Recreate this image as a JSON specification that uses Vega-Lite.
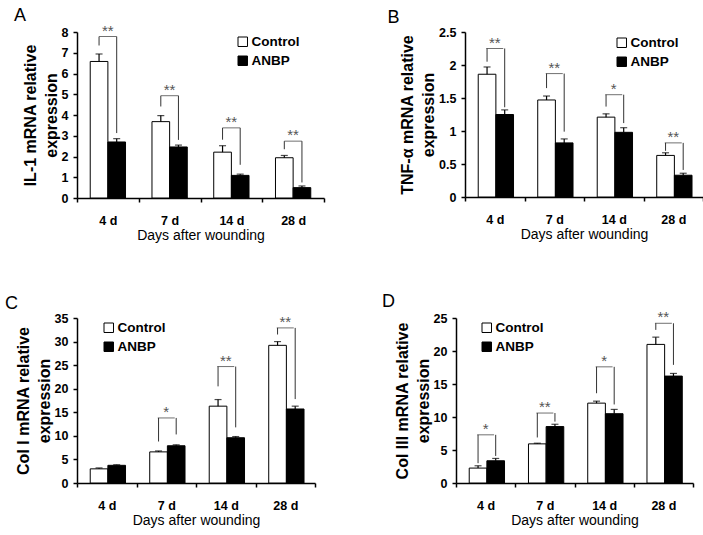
{
  "$schema": "https://vega.github.io/schema/vega-lite/v6.json",
  "background": "white",
  "padding": {"left": 5, "top": 6, "right": 0, "bottom": 0},
  "config": {
    "view": {"stroke": null},
    "font": "Liberation Sans",
    "axis": {"grid": false, "domainColor": "black", "domainWidth": 1.5, "tickColor": "black", "tickWidth": 1.5, "tickSize": 4, "labelColor": "black", "labelFont": "Liberation Sans", "labelFontSize": 12.5, "labelFontWeight": "bold", "labelOverlap": false, "labelSeparation": -40, "titleColor": "black", "titleFont": "Liberation Sans"},
    "axisY": {"format": "~g", "titleFontSize": 16, "titleFontWeight": "bold", "titleLineHeight": 21, "titlePadding": 2, "labelPadding": 5, "labelOverlap": false, "labelSeparation": -40},
    "axisX": {"titleFontSize": 14, "titleFontWeight": "normal", "titlePadding": 2, "labelAngle": 0, "labelPadding": 12, "tickBand": "extent"},
    "title": {"font": "Liberation Sans", "fontSize": 18, "fontWeight": "normal", "color": "black", "anchor": "start", "frame": "bounds", "offset": 2},
    "legend": {"title": null, "orient": "none", "symbolType": "square", "symbolSize": 90, "symbolStrokeColor": "black", "symbolStrokeWidth": 1, "labelFont": "Liberation Sans", "labelFontSize": 13.5, "labelFontWeight": "bold", "labelColor": "black", "labelOffset": 2, "rowPadding": 4}
  },
  "datasets": {
    "bars": [
      {"panel": "A", "day": "4 d", "group": "Control", "value": 6.58, "err": 6.94},
      {"panel": "A", "day": "4 d", "group": "ANBP", "value": 2.70, "err": 2.86},
      {"panel": "A", "day": "7 d", "group": "Control", "value": 3.68, "err": 3.97},
      {"panel": "A", "day": "7 d", "group": "ANBP", "value": 2.46, "err": 2.55},
      {"panel": "A", "day": "14 d", "group": "Control", "value": 2.21, "err": 2.52},
      {"panel": "A", "day": "14 d", "group": "ANBP", "value": 1.09, "err": 1.15},
      {"panel": "A", "day": "28 d", "group": "Control", "value": 1.94, "err": 2.05},
      {"panel": "A", "day": "28 d", "group": "ANBP", "value": 0.50, "err": 0.58},
      {"panel": "B", "day": "4 d", "group": "Control", "value": 1.86, "err": 1.97},
      {"panel": "B", "day": "4 d", "group": "ANBP", "value": 1.25, "err": 1.32},
      {"panel": "B", "day": "7 d", "group": "Control", "value": 1.47, "err": 1.53},
      {"panel": "B", "day": "7 d", "group": "ANBP", "value": 0.82, "err": 0.88},
      {"panel": "B", "day": "14 d", "group": "Control", "value": 1.21, "err": 1.26},
      {"panel": "B", "day": "14 d", "group": "ANBP", "value": 0.98, "err": 1.05},
      {"panel": "B", "day": "28 d", "group": "Control", "value": 0.63, "err": 0.67},
      {"panel": "B", "day": "28 d", "group": "ANBP", "value": 0.33, "err": 0.36},
      {"panel": "C", "day": "4 d", "group": "Control", "value": 3.0, "err": 3.2},
      {"panel": "C", "day": "4 d", "group": "ANBP", "value": 3.75, "err": 3.87},
      {"panel": "C", "day": "7 d", "group": "Control", "value": 6.6, "err": 6.8},
      {"panel": "C", "day": "7 d", "group": "ANBP", "value": 7.9, "err": 8.1},
      {"panel": "C", "day": "14 d", "group": "Control", "value": 16.3, "err": 17.7},
      {"panel": "C", "day": "14 d", "group": "ANBP", "value": 9.6, "err": 9.85},
      {"panel": "C", "day": "28 d", "group": "Control", "value": 29.2, "err": 30.0},
      {"panel": "C", "day": "28 d", "group": "ANBP", "value": 15.7, "err": 16.3},
      {"panel": "D", "day": "4 d", "group": "Control", "value": 2.26, "err": 2.61},
      {"panel": "D", "day": "4 d", "group": "ANBP", "value": 3.37, "err": 3.72},
      {"panel": "D", "day": "7 d", "group": "Control", "value": 5.93, "err": 6.03},
      {"panel": "D", "day": "7 d", "group": "ANBP", "value": 8.55, "err": 8.9},
      {"panel": "D", "day": "14 d", "group": "Control", "value": 12.1, "err": 12.4},
      {"panel": "D", "day": "14 d", "group": "ANBP", "value": 10.5, "err": 11.15},
      {"panel": "D", "day": "28 d", "group": "Control", "value": 21.0, "err": 22.1},
      {"panel": "D", "day": "28 d", "group": "ANBP", "value": 16.2, "err": 16.6}
    ],
    "legs": [
      {"panel": "A", "day": "4 d", "group": "Control", "y": 7.35, "top": 7.78},
      {"panel": "A", "day": "4 d", "group": "ANBP", "y": 3.13, "top": 7.78},
      {"panel": "A", "day": "7 d", "group": "Control", "y": 4.41, "top": 4.93},
      {"panel": "A", "day": "7 d", "group": "ANBP", "y": 2.8, "top": 4.93},
      {"panel": "A", "day": "14 d", "group": "Control", "y": 2.81, "top": 3.38},
      {"panel": "A", "day": "14 d", "group": "ANBP", "y": 1.6, "top": 3.38},
      {"panel": "A", "day": "28 d", "group": "Control", "y": 2.35, "top": 2.74},
      {"panel": "A", "day": "28 d", "group": "ANBP", "y": 0.75, "top": 2.74},
      {"panel": "B", "day": "4 d", "group": "Control", "y": 2.05, "top": 2.25},
      {"panel": "B", "day": "4 d", "group": "ANBP", "y": 1.36, "top": 2.25},
      {"panel": "B", "day": "7 d", "group": "Control", "y": 1.65, "top": 1.87},
      {"panel": "B", "day": "7 d", "group": "ANBP", "y": 0.99, "top": 1.87},
      {"panel": "B", "day": "14 d", "group": "Control", "y": 1.37, "top": 1.55},
      {"panel": "B", "day": "14 d", "group": "ANBP", "y": 1.12, "top": 1.55},
      {"panel": "B", "day": "28 d", "group": "Control", "y": 0.70, "top": 0.82},
      {"panel": "B", "day": "28 d", "group": "ANBP", "y": 0.41, "top": 0.82},
      {"panel": "C", "day": "7 d", "group": "Control", "y": 8.8, "top": 13.8},
      {"panel": "C", "day": "7 d", "group": "ANBP", "y": 10.3, "top": 13.8},
      {"panel": "C", "day": "14 d", "group": "Control", "y": 20.5, "top": 24.7},
      {"panel": "C", "day": "14 d", "group": "ANBP", "y": 11.8, "top": 24.7},
      {"panel": "C", "day": "28 d", "group": "Control", "y": 31.5, "top": 32.9},
      {"panel": "C", "day": "28 d", "group": "ANBP", "y": 17.8, "top": 32.9},
      {"panel": "D", "day": "4 d", "group": "Control", "y": 3.0, "top": 7.3},
      {"panel": "D", "day": "4 d", "group": "ANBP", "y": 4.1, "top": 7.3},
      {"panel": "D", "day": "7 d", "group": "Control", "y": 6.9, "top": 10.6},
      {"panel": "D", "day": "7 d", "group": "ANBP", "y": 9.3, "top": 10.6},
      {"panel": "D", "day": "14 d", "group": "Control", "y": 13.6, "top": 17.6},
      {"panel": "D", "day": "14 d", "group": "ANBP", "y": 11.9, "top": 17.6},
      {"panel": "D", "day": "28 d", "group": "Control", "y": 23.2, "top": 24.2},
      {"panel": "D", "day": "28 d", "group": "ANBP", "y": 17.9, "top": 24.2}
    ],
    "stars": [
      {"panel": "A", "day": "4 d", "y": 7.78, "label": "**"},
      {"panel": "A", "day": "7 d", "y": 4.93, "label": "**"},
      {"panel": "A", "day": "14 d", "y": 3.38, "label": "**"},
      {"panel": "A", "day": "28 d", "y": 2.74, "label": "**"},
      {"panel": "B", "day": "4 d", "y": 2.25, "label": "**"},
      {"panel": "B", "day": "7 d", "y": 1.87, "label": "**"},
      {"panel": "B", "day": "14 d", "y": 1.55, "label": "*"},
      {"panel": "B", "day": "28 d", "y": 0.82, "label": "**"},
      {"panel": "C", "day": "7 d", "y": 13.8, "label": "*"},
      {"panel": "C", "day": "14 d", "y": 24.7, "label": "**"},
      {"panel": "C", "day": "28 d", "y": 32.9, "label": "**"},
      {"panel": "D", "day": "4 d", "y": 7.3, "label": "*"},
      {"panel": "D", "day": "7 d", "y": 10.6, "label": "**"},
      {"panel": "D", "day": "14 d", "y": 17.6, "label": "*"},
      {"panel": "D", "day": "28 d", "y": 24.2, "label": "**"}
    ]
  },
  "spacing": 50,
  "vconcat": [
    {
      "spacing": 62,
      "resolve": {"scale": {"fill": "independent", "y": "independent", "x": "independent"}, "legend": {"fill": "independent"}},
      "hconcat": [
        {
          "width": 247, "height": 166,
          "title": {"text": "A", "dx": -8, "dy": 3},
          "encoding": {
            "x": {"field": "day", "type": "nominal", "sort": ["4 d", "7 d", "14 d", "28 d"], "scale": {"paddingInner": 0, "paddingOuter": 0}, "axis": {"title": "Days after wounding"}}
          },
          "layer": [
            {"data": {"name": "bars"}, "transform": [{"filter": "datum.panel === 'A'"}], "mark": {"type": "bar", "stroke": "black", "strokeWidth": 1},
             "encoding": {"xOffset": {"field": "group", "type": "nominal", "sort": ["Control", "ANBP"], "scale": {"paddingInner": 0, "paddingOuter": 0.75}},
               "y": {"field": "value", "type": "quantitative", "scale": {"domain": [0, 8], "nice": false}, "axis": {"values": [0, 1, 2, 3, 4, 5, 6, 7, 8], "labelOverlap": false, "labelSeparation": -40, "title": ["IL-1 mRNA relative", "expression"]}},
               "fill": {"field": "group", "type": "nominal", "scale": {"domain": ["Control", "ANBP"], "range": ["white", "black"]}, "legend": {"legendX": 159, "legendY": 3}}}},
            {"data": {"name": "bars"}, "transform": [{"filter": "datum.panel === 'A'"}], "mark": {"type": "rule", "color": "black", "strokeWidth": 1.2},
             "encoding": {"xOffset": {"field": "group", "type": "nominal", "sort": ["Control", "ANBP"]}, "y": {"field": "value", "type": "quantitative", "axis": {"values": [0, 1, 2, 3, 4, 5, 6, 7, 8], "labelOverlap": false, "labelSeparation": -40, "title": ["IL-1 mRNA relative", "expression"]}}, "y2": {"field": "err"}}},
            {"data": {"name": "bars"}, "transform": [{"filter": "datum.panel === 'A'"}], "mark": {"type": "tick", "orient": "horizontal", "size": 7, "thickness": 1.2, "color": "black"},
             "encoding": {"xOffset": {"field": "group", "type": "nominal", "sort": ["Control", "ANBP"]}, "y": {"field": "err", "type": "quantitative", "axis": {"values": [0, 1, 2, 3, 4, 5, 6, 7, 8], "labelOverlap": false, "labelSeparation": -40, "title": ["IL-1 mRNA relative", "expression"]}}}},
            {"data": {"name": "legs"}, "transform": [{"filter": "datum.panel === 'A'"}], "mark": {"type": "rule", "color": "#333", "strokeWidth": 1},
             "encoding": {"xOffset": {"field": "group", "type": "nominal", "sort": ["Control", "ANBP"]}, "y": {"field": "y", "type": "quantitative", "axis": {"values": [0, 1, 2, 3, 4, 5, 6, 7, 8], "labelOverlap": false, "labelSeparation": -40, "title": ["IL-1 mRNA relative", "expression"]}}, "y2": {"field": "top"}}},
            {"data": {"name": "stars"}, "transform": [{"filter": "datum.panel === 'A'"}], "mark": {"type": "tick", "orient": "horizontal", "size": 17.6, "thickness": 1, "color": "#333"},
             "encoding": {"y": {"field": "y", "type": "quantitative", "axis": {"values": [0, 1, 2, 3, 4, 5, 6, 7, 8], "labelOverlap": false, "labelSeparation": -40, "title": ["IL-1 mRNA relative", "expression"]}}}},
            {"data": {"name": "stars"}, "transform": [{"filter": "datum.panel === 'A'"}], "mark": {"type": "text", "fontSize": 15, "color": "#555", "baseline": "alphabetic", "dy": -1},
             "encoding": {"y": {"field": "y", "type": "quantitative", "axis": {"values": [0, 1, 2, 3, 4, 5, 6, 7, 8], "labelOverlap": false, "labelSeparation": -40, "title": ["IL-1 mRNA relative", "expression"]}}, "text": {"field": "label"}}}
          ]
        },
        {
          "width": 238, "height": 165,
          "title": {"text": "B", "dx": -12, "dy": 3},
          "encoding": {
            "x": {"field": "day", "type": "nominal", "sort": ["4 d", "7 d", "14 d", "28 d"], "scale": {"paddingInner": 0, "paddingOuter": 0}, "axis": {"title": "Days after wounding"}}
          },
          "layer": [
            {"data": {"name": "bars"}, "transform": [{"filter": "datum.panel === 'B'"}], "mark": {"type": "bar", "stroke": "black", "strokeWidth": 1},
             "encoding": {"xOffset": {"field": "group", "type": "nominal", "sort": ["Control", "ANBP"], "scale": {"paddingInner": 0, "paddingOuter": 0.75}},
               "y": {"field": "value", "type": "quantitative", "scale": {"domain": [0, 2.5], "nice": false}, "axis": {"values": [0, 0.5, 1, 1.5, 2, 2.5], "labelOverlap": false, "labelSeparation": -40, "title": ["TNF-α mRNA relative", "expression"]}},
               "fill": {"field": "group", "type": "nominal", "scale": {"domain": ["Control", "ANBP"], "range": ["white", "black"]}, "legend": {"legendX": 150, "legendY": 4}}}},
            {"data": {"name": "bars"}, "transform": [{"filter": "datum.panel === 'B'"}], "mark": {"type": "rule", "color": "black", "strokeWidth": 1.2},
             "encoding": {"xOffset": {"field": "group", "type": "nominal", "sort": ["Control", "ANBP"]}, "y": {"field": "value", "type": "quantitative", "axis": {"values": [0, 0.5, 1, 1.5, 2, 2.5], "labelOverlap": false, "labelSeparation": -40, "title": ["TNF-α mRNA relative", "expression"]}}, "y2": {"field": "err"}}},
            {"data": {"name": "bars"}, "transform": [{"filter": "datum.panel === 'B'"}], "mark": {"type": "tick", "orient": "horizontal", "size": 7, "thickness": 1.2, "color": "black"},
             "encoding": {"xOffset": {"field": "group", "type": "nominal", "sort": ["Control", "ANBP"]}, "y": {"field": "err", "type": "quantitative", "axis": {"values": [0, 0.5, 1, 1.5, 2, 2.5], "labelOverlap": false, "labelSeparation": -40, "title": ["TNF-α mRNA relative", "expression"]}}}},
            {"data": {"name": "legs"}, "transform": [{"filter": "datum.panel === 'B'"}], "mark": {"type": "rule", "color": "#333", "strokeWidth": 1},
             "encoding": {"xOffset": {"field": "group", "type": "nominal", "sort": ["Control", "ANBP"]}, "y": {"field": "y", "type": "quantitative", "axis": {"values": [0, 0.5, 1, 1.5, 2, 2.5], "labelOverlap": false, "labelSeparation": -40, "title": ["TNF-α mRNA relative", "expression"]}}, "y2": {"field": "top"}}},
            {"data": {"name": "stars"}, "transform": [{"filter": "datum.panel === 'B'"}], "mark": {"type": "tick", "orient": "horizontal", "size": 17, "thickness": 1, "color": "#333"},
             "encoding": {"y": {"field": "y", "type": "quantitative", "axis": {"values": [0, 0.5, 1, 1.5, 2, 2.5], "labelOverlap": false, "labelSeparation": -40, "title": ["TNF-α mRNA relative", "expression"]}}}},
            {"data": {"name": "stars"}, "transform": [{"filter": "datum.panel === 'B'"}], "mark": {"type": "text", "fontSize": 15, "color": "#555", "baseline": "alphabetic", "dy": -1},
             "encoding": {"y": {"field": "y", "type": "quantitative", "axis": {"values": [0, 0.5, 1, 1.5, 2, 2.5], "labelOverlap": false, "labelSeparation": -40, "title": ["TNF-α mRNA relative", "expression"]}}, "text": {"field": "label"}}}
          ]
        }
      ]
    },
    {
      "spacing": 66,
      "resolve": {"scale": {"fill": "independent", "y": "independent", "x": "independent"}, "legend": {"fill": "independent"}},
      "hconcat": [
        {
          "width": 238, "height": 165,
          "title": {"text": "C", "dx": -10, "dy": 3},
          "encoding": {
            "x": {"field": "day", "type": "nominal", "sort": ["4 d", "7 d", "14 d", "28 d"], "scale": {"paddingInner": 0, "paddingOuter": 0}, "axis": {"title": "Days after wounding"}}
          },
          "layer": [
            {"data": {"name": "bars"}, "transform": [{"filter": "datum.panel === 'C'"}], "mark": {"type": "bar", "stroke": "black", "strokeWidth": 1},
             "encoding": {"xOffset": {"field": "group", "type": "nominal", "sort": ["Control", "ANBP"], "scale": {"paddingInner": 0, "paddingOuter": 0.75}},
               "y": {"field": "value", "type": "quantitative", "scale": {"domain": [0, 35], "nice": false}, "axis": {"values": [0, 5, 10, 15, 20, 25, 30, 35], "labelOverlap": false, "labelSeparation": -40, "title": ["Col I mRNA relative", "expression"]}},
               "fill": {"field": "group", "type": "nominal", "scale": {"domain": ["Control", "ANBP"], "range": ["white", "black"]}, "legend": {"legendX": 25, "legendY": 3}}}},
            {"data": {"name": "bars"}, "transform": [{"filter": "datum.panel === 'C'"}], "mark": {"type": "rule", "color": "black", "strokeWidth": 1.2},
             "encoding": {"xOffset": {"field": "group", "type": "nominal", "sort": ["Control", "ANBP"]}, "y": {"field": "value", "type": "quantitative", "axis": {"values": [0, 5, 10, 15, 20, 25, 30, 35], "labelOverlap": false, "labelSeparation": -40, "title": ["Col I mRNA relative", "expression"]}}, "y2": {"field": "err"}}},
            {"data": {"name": "bars"}, "transform": [{"filter": "datum.panel === 'C'"}], "mark": {"type": "tick", "orient": "horizontal", "size": 7, "thickness": 1.2, "color": "black"},
             "encoding": {"xOffset": {"field": "group", "type": "nominal", "sort": ["Control", "ANBP"]}, "y": {"field": "err", "type": "quantitative", "axis": {"values": [0, 5, 10, 15, 20, 25, 30, 35], "labelOverlap": false, "labelSeparation": -40, "title": ["Col I mRNA relative", "expression"]}}}},
            {"data": {"name": "legs"}, "transform": [{"filter": "datum.panel === 'C'"}], "mark": {"type": "rule", "color": "#333", "strokeWidth": 1},
             "encoding": {"xOffset": {"field": "group", "type": "nominal", "sort": ["Control", "ANBP"]}, "y": {"field": "y", "type": "quantitative", "axis": {"values": [0, 5, 10, 15, 20, 25, 30, 35], "labelOverlap": false, "labelSeparation": -40, "title": ["Col I mRNA relative", "expression"]}}, "y2": {"field": "top"}}},
            {"data": {"name": "stars"}, "transform": [{"filter": "datum.panel === 'C'"}], "mark": {"type": "tick", "orient": "horizontal", "size": 17, "thickness": 1, "color": "#333"},
             "encoding": {"y": {"field": "y", "type": "quantitative", "axis": {"values": [0, 5, 10, 15, 20, 25, 30, 35], "labelOverlap": false, "labelSeparation": -40, "title": ["Col I mRNA relative", "expression"]}}}},
            {"data": {"name": "stars"}, "transform": [{"filter": "datum.panel === 'C'"}], "mark": {"type": "text", "fontSize": 15, "color": "#555", "baseline": "alphabetic", "dy": -1},
             "encoding": {"y": {"field": "y", "type": "quantitative", "axis": {"values": [0, 5, 10, 15, 20, 25, 30, 35], "labelOverlap": false, "labelSeparation": -40, "title": ["Col I mRNA relative", "expression"]}}, "text": {"field": "label"}}}
          ]
        },
        {
          "width": 237, "height": 165,
          "title": {"text": "D", "dx": -12, "dy": 3},
          "encoding": {
            "x": {"field": "day", "type": "nominal", "sort": ["4 d", "7 d", "14 d", "28 d"], "scale": {"paddingInner": 0, "paddingOuter": 0}, "axis": {"title": "Days after wounding"}}
          },
          "layer": [
            {"data": {"name": "bars"}, "transform": [{"filter": "datum.panel === 'D'"}], "mark": {"type": "bar", "stroke": "black", "strokeWidth": 1},
             "encoding": {"xOffset": {"field": "group", "type": "nominal", "sort": ["Control", "ANBP"], "scale": {"paddingInner": 0, "paddingOuter": 0.75}},
               "y": {"field": "value", "type": "quantitative", "scale": {"domain": [0, 25], "nice": false}, "axis": {"values": [0, 5, 10, 15, 20, 25], "labelOverlap": false, "labelSeparation": -40, "title": ["Col III mRNA relative", "expression"]}},
               "fill": {"field": "group", "type": "nominal", "scale": {"domain": ["Control", "ANBP"], "range": ["white", "black"]}, "legend": {"legendX": 24, "legendY": 3}}}},
            {"data": {"name": "bars"}, "transform": [{"filter": "datum.panel === 'D'"}], "mark": {"type": "rule", "color": "black", "strokeWidth": 1.2},
             "encoding": {"xOffset": {"field": "group", "type": "nominal", "sort": ["Control", "ANBP"]}, "y": {"field": "value", "type": "quantitative", "axis": {"values": [0, 5, 10, 15, 20, 25], "labelOverlap": false, "labelSeparation": -40, "title": ["Col III mRNA relative", "expression"]}}, "y2": {"field": "err"}}},
            {"data": {"name": "bars"}, "transform": [{"filter": "datum.panel === 'D'"}], "mark": {"type": "tick", "orient": "horizontal", "size": 7, "thickness": 1.2, "color": "black"},
             "encoding": {"xOffset": {"field": "group", "type": "nominal", "sort": ["Control", "ANBP"]}, "y": {"field": "err", "type": "quantitative", "axis": {"values": [0, 5, 10, 15, 20, 25], "labelOverlap": false, "labelSeparation": -40, "title": ["Col III mRNA relative", "expression"]}}}},
            {"data": {"name": "legs"}, "transform": [{"filter": "datum.panel === 'D'"}], "mark": {"type": "rule", "color": "#333", "strokeWidth": 1},
             "encoding": {"xOffset": {"field": "group", "type": "nominal", "sort": ["Control", "ANBP"]}, "y": {"field": "y", "type": "quantitative", "axis": {"values": [0, 5, 10, 15, 20, 25], "labelOverlap": false, "labelSeparation": -40, "title": ["Col III mRNA relative", "expression"]}}, "y2": {"field": "top"}}},
            {"data": {"name": "stars"}, "transform": [{"filter": "datum.panel === 'D'"}], "mark": {"type": "tick", "orient": "horizontal", "size": 16.9, "thickness": 1, "color": "#333"},
             "encoding": {"y": {"field": "y", "type": "quantitative", "axis": {"values": [0, 5, 10, 15, 20, 25], "labelOverlap": false, "labelSeparation": -40, "title": ["Col III mRNA relative", "expression"]}}}},
            {"data": {"name": "stars"}, "transform": [{"filter": "datum.panel === 'D'"}], "mark": {"type": "text", "fontSize": 15, "color": "#555", "baseline": "alphabetic", "dy": -1},
             "encoding": {"y": {"field": "y", "type": "quantitative", "axis": {"values": [0, 5, 10, 15, 20, 25], "labelOverlap": false, "labelSeparation": -40, "title": ["Col III mRNA relative", "expression"]}}, "text": {"field": "label"}}}
          ]
        }
      ]
    }
  ]
}
